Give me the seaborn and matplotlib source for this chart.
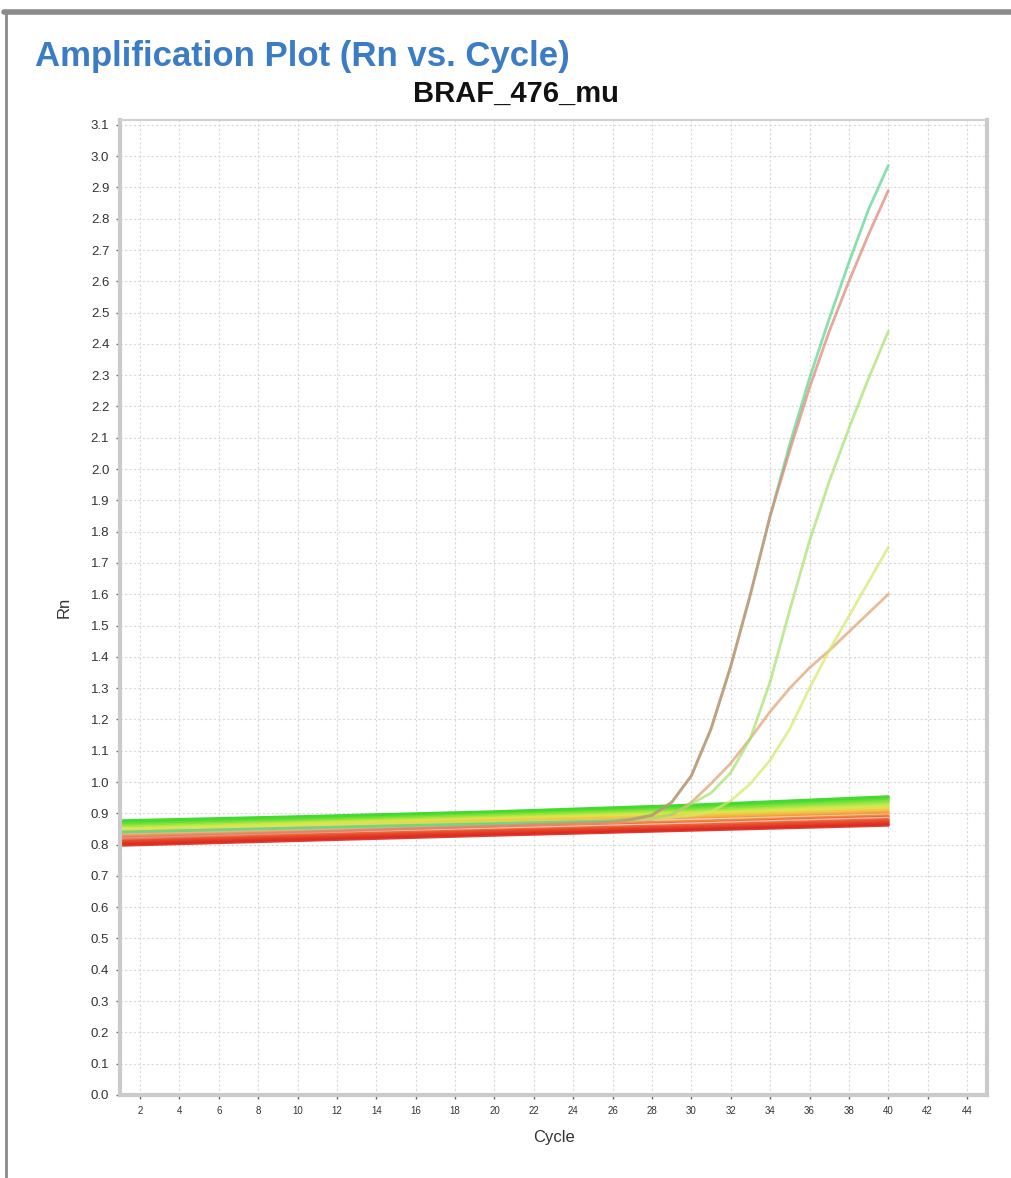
import numpy as np
import pandas as pd
import matplotlib
matplotlib.use("Agg")
import matplotlib.pyplot as plt
import seaborn as sns
from matplotlib.lines import Line2D

# ---------------- data ----------------
base_cycles = [1, 10, 20, 30, 40]
base_wells = {
    "g1":  [0.876, 0.889, 0.905, 0.926, 0.953],
    "g2":  [0.870, 0.883, 0.901, 0.921, 0.948],
    "g3":  [0.864, 0.879, 0.897, 0.915, 0.942],
    "g4":  [0.859, 0.874, 0.893, 0.910, 0.936],
    "yg1": [0.855, 0.870, 0.888, 0.905, 0.929],
    "yg2": [0.850, 0.866, 0.884, 0.900, 0.922],
    "y1":  [0.846, 0.862, 0.880, 0.896, 0.917],
    "y2":  [0.842, 0.857, 0.876, 0.892, 0.911],
    "o1":  [0.838, 0.852, 0.870, 0.886, 0.905],
    "o2":  [0.833, 0.848, 0.866, 0.881, 0.900],
    "p1":  [0.830, 0.845, 0.862, 0.878, 0.894],
    "o3":  [0.826, 0.840, 0.858, 0.874, 0.892],
    "r1":  [0.822, 0.836, 0.853, 0.869, 0.888],
    "p2":  [0.818, 0.833, 0.850, 0.866, 0.884],
    "r2":  [0.815, 0.830, 0.846, 0.862, 0.880],
    "r3":  [0.810, 0.825, 0.842, 0.857, 0.875],
    "r4":  [0.806, 0.821, 0.838, 0.853, 0.870],
    "r5":  [0.802, 0.817, 0.834, 0.849, 0.866],
    "r6":  [0.798, 0.813, 0.830, 0.846, 0.862],
}
base_colors = {
    "g1": "#2fd51f", "g2": "#45dc2a", "g3": "#66e033", "g4": "#8ee23a",
    "yg1": "#b5e640", "yg2": "#d2e84a", "y1": "#e6df4a", "y2": "#f0c844",
    "o1": "#f4ae3e", "o2": "#f39a3a", "p1": "#f7d8c8", "o3": "#f28036",
    "r1": "#ef6a30", "p2": "#f6c8c0", "r2": "#ec5a2c", "r3": "#e84a28",
    "r4": "#e43e26", "r5": "#e03224", "r6": "#dc2a22",
}

amp_cycles = [1, 26, 27, 28, 29, 30, 31, 32, 33, 34, 35, 36, 37, 38, 39, 40]
amp_green  = [0.84, 0.876, 0.882, 0.895, 0.935, 1.02, 1.17, 1.37, 1.60, 1.85, 2.08, 2.29, 2.48, 2.66, 2.83, 2.97]
amp_red    = [0.82, 0.872, 0.880, 0.893, 0.935, 1.02, 1.17, 1.37, 1.60, 1.85, 2.06, 2.26, 2.44, 2.60, 2.75, 2.89]
amp_lgreen = [0.84, 0.875, 0.878, 0.884, 0.897, 0.930, 0.965, 1.03, 1.14, 1.32, 1.55, 1.77, 1.96, 2.13, 2.29, 2.44]
amp_yellow = [0.85, 0.878, 0.880, 0.883, 0.887, 0.893, 0.905, 0.94, 0.995, 1.07, 1.17, 1.30, 1.42, 1.53, 1.64, 1.75]
amp_orange = [0.83, 0.870, 0.874, 0.880, 0.895, 0.935, 0.995, 1.06, 1.14, 1.225, 1.30, 1.365, 1.42, 1.48, 1.54, 1.60]
amp_colors = {
    "A_red": "#dc8470", "A_green": "#58d48a", "lgreen": "#a6e06a",
    "yellow": "#d4e86a", "orange": "#dfa070",
}

x_ticks = list(range(2, 45, 2))
y_ticks = [round(0.1 * i, 1) for i in range(0, 32)]

# ---------------- frame ----------------
rows = []
for w, vals in base_wells.items():
    for c, v in zip(base_cycles, vals):
        rows.append((w, c, v))
for w, vals in [("orange", amp_orange), ("yellow", amp_yellow), ("lgreen", amp_lgreen),
                ("A_green", amp_green), ("A_red", amp_red)]:
    for c, v in zip(amp_cycles, vals):
        rows.append((w, c, v))
df = pd.DataFrame(rows, columns=["well", "Cycle", "Rn"])

palette = dict(base_colors)
palette.update(amp_colors)

sns.set_theme(style="white")
plt.rcParams["font.family"] = ["Liberation Sans", "DejaVu Sans"]
plt.rcParams["lines.solid_joinstyle"] = "round"

fig = plt.figure(figsize=(10.11, 11.78), dpi=100)
ax = fig.add_axes([0.119, 0.0705, 0.857, 0.8275])

base_df = df[df["well"].isin(base_wells.keys())]
sns.lineplot(data=base_df, x="Cycle", y="Rn", hue="well", palette=palette,
             estimator=None, sort=False, legend=False, linewidth=2.2, alpha=0.9, ax=ax)
amp_df = df[~df["well"].isin(base_wells.keys())]
sns.lineplot(data=amp_df, x="Cycle", y="Rn", hue="well", palette=palette,
             hue_order=["orange", "yellow", "lgreen", "A_green", "A_red"],
             estimator=None, sort=False, legend=False, linewidth=2.0, alpha=0.7, ax=ax)

ax.set_xlim(1, 45)
ax.set_ylim(0, 3.115)
ax.set_xticks(x_ticks)
ax.set_xticklabels([str(t) for t in x_ticks], fontsize=7, color="#333333")
ax.set_yticks(y_ticks)
ax.set_yticklabels([f"{t:.1f}" for t in y_ticks], fontsize=9.5, color="#333333")
ax.tick_params(axis="both", which="major", direction="out", length=3, width=1,
               color="#666666", pad=5, bottom=True, left=True)
ax.grid(True, color="#d8d8d8", linestyle=(0, (2, 2)), linewidth=0.8)
ax.set_axisbelow(True)
for side in ["left", "bottom", "right"]:
    ax.spines[side].set_color("#cacaca")
    ax.spines[side].set_linewidth(3)
ax.spines["top"].set_color("#d0d0d0")
ax.spines["top"].set_linewidth(1.5)

ax.set_xlabel("Cycle", fontsize=12, color="#333333", labelpad=10)
ax.set_ylabel("Rn", fontsize=12, color="#333333", labelpad=14)

fig.text(35 / 1011, 1 - 66 / 1178, "Amplification Plot (Rn vs. Cycle)",
         fontsize=25, fontweight="bold", color="#3b7cc4", ha="left", va="baseline")
fig.text(516 / 1011, 1 - 102 / 1178, "BRAF_476_mu", fontsize=21, fontweight="bold",
         color="#111111", ha="center", va="baseline")

# window border (top and left)
fig.add_artist(Line2D([4 / 1011, 1], [1 - 12 / 1178, 1 - 12 / 1178],
                      transform=fig.transFigure, color="#8a8a8a", linewidth=4))
fig.add_artist(Line2D([6 / 1011, 6 / 1011], [0, 1 - 12 / 1178],
                      transform=fig.transFigure, color="#8a8a8a", linewidth=2))

fig.savefig("out.png", dpi=100, facecolor="white")
